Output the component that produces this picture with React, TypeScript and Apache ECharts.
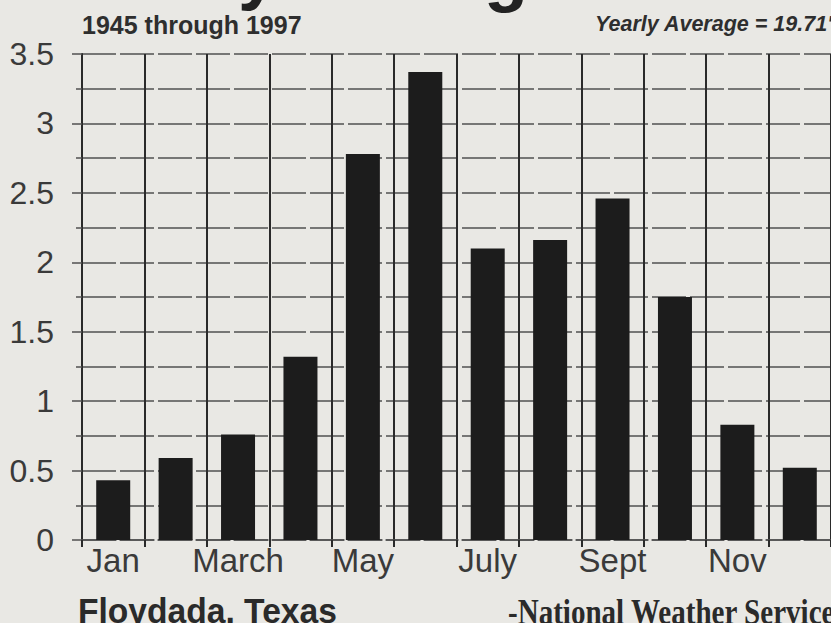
import React, { useEffect, useRef } from "react";
import * as echarts from "echarts";

const months = ["Jan", "Feb", "March", "April", "May", "June", "July", "Aug", "Sept", "Oct", "Nov", "Dec"];
const rainfall = [0.43, 0.59, 0.76, 1.32, 2.78, 3.37, 2.1, 2.16, 2.46, 1.75, 0.83, 0.52];
const yMin = 0;
const yMax = 3.5;
const yStep = 0.5;
const subtitle = "1945 through 1997";
const yearlyNote = "Yearly Average = 19.71\"";
const placeLabel = "Floydada, Texas";
const sourceLabel = "-National Weather Service";

const SANS = "'Liberation Sans', Arial, Helvetica, sans-serif";
const SERIF = "'Liberation Serif', 'Times New Roman', serif";

export default function App() {
  const ref = useRef<HTMLDivElement>(null);

  useEffect(() => {
    if (!ref.current) return;
    const chart = echarts.init(ref.current, null, { renderer: "svg" });
    const gridLine = { color: "#505050", width: 1.5, type: [34, 4] as any };
    chart.setOption({
      animation: false,
      backgroundColor: "#e9e8e4",
      grid: { left: 82, top: 54, width: 752, height: 486, containLabel: false },
      xAxis: {
        type: "category",
        data: months,
        boundaryGap: true,
        axisLine: { show: true, lineStyle: { color: "#505050", width: 1.5, type: [34, 4] } },
        axisTick: { show: true, interval: 0, length: 7, lineStyle: { color: "#2a2a2a", width: 2 } },
        axisLabel: { interval: 1, fontSize: 33, color: "#3a3a3a", fontFamily: SANS, margin: 4 },
        splitLine: { show: true, interval: 0, lineStyle: { color: "#2a2a2a", width: 2 } },
      },
      yAxis: {
        type: "value",
        min: yMin,
        max: yMax,
        interval: yStep,
        axisLine: { show: true, lineStyle: { color: "#2a2a2a", width: 2 } },
        axisTick: { show: true, length: 10, lineStyle: { color: "#505050", width: 1.5 } },
        minorTick: { show: true, splitNumber: 2, length: 6, lineStyle: { color: "#505050", width: 1.5 } },
        axisLabel: {
          fontSize: 32,
          color: "#3a3a3a",
          fontFamily: SANS,
          margin: 28,
          padding: [0, 0, 6, 0],
        },
        splitLine: { show: true, lineStyle: gridLine },
        minorSplitLine: { show: true, lineStyle: gridLine },
      },
      series: [
        {
          type: "bar",
          data: rainfall,
          barWidth: 34,
          itemStyle: { color: "#1c1c1c" },
        },
      ],
      graphic: [
        {
          type: "text",
          left: 238,
          top: -65,
          style: { text: "y", fontSize: 72, fontWeight: "bold", fontFamily: SANS, fill: "#222" },
        },
        {
          type: "text",
          left: 484,
          top: -63,
          style: { text: "g", fontSize: 72, fontWeight: "bold", fontFamily: SANS, fill: "#222" },
        },
        {
          type: "text",
          x: 82,
          y: 25,
          style: {
            text: subtitle,
            fontSize: 25,
            fontWeight: "bold",
            fontFamily: SANS,
            fill: "#2e2e2e",
            verticalAlign: "middle",
          },
        },
        {
          type: "text",
          x: 595,
          y: 24,
          style: {
            text: yearlyNote,
            fontSize: 21.5,
            fontWeight: "bold",
            fontStyle: "italic",
            fontFamily: SANS,
            fill: "#2e2e2e",
            verticalAlign: "middle",
          },
        },
        {
          type: "text",
          x: 78,
          y: 611,
          scaleX: 0.96,
          style: {
            text: placeLabel,
            fontSize: 35,
            fontWeight: "bold",
            fontFamily: SANS,
            fill: "#2a2a2a",
            verticalAlign: "middle",
          },
        },
        {
          type: "text",
          x: 508,
          y: 612,
          scaleX: 0.83,
          style: {
            text: sourceLabel,
            fontSize: 35,
            fontWeight: "bold",
            fontFamily: SERIF,
            fill: "#2a2a2a",
            verticalAlign: "middle",
          },
        },
      ],
    });
    return () => chart.dispose();
  }, []);

  return (
    <div
      ref={ref}
      style={{ position: "fixed", left: 0, top: 0, width: 831, height: 623 }}
    />
  );
}
